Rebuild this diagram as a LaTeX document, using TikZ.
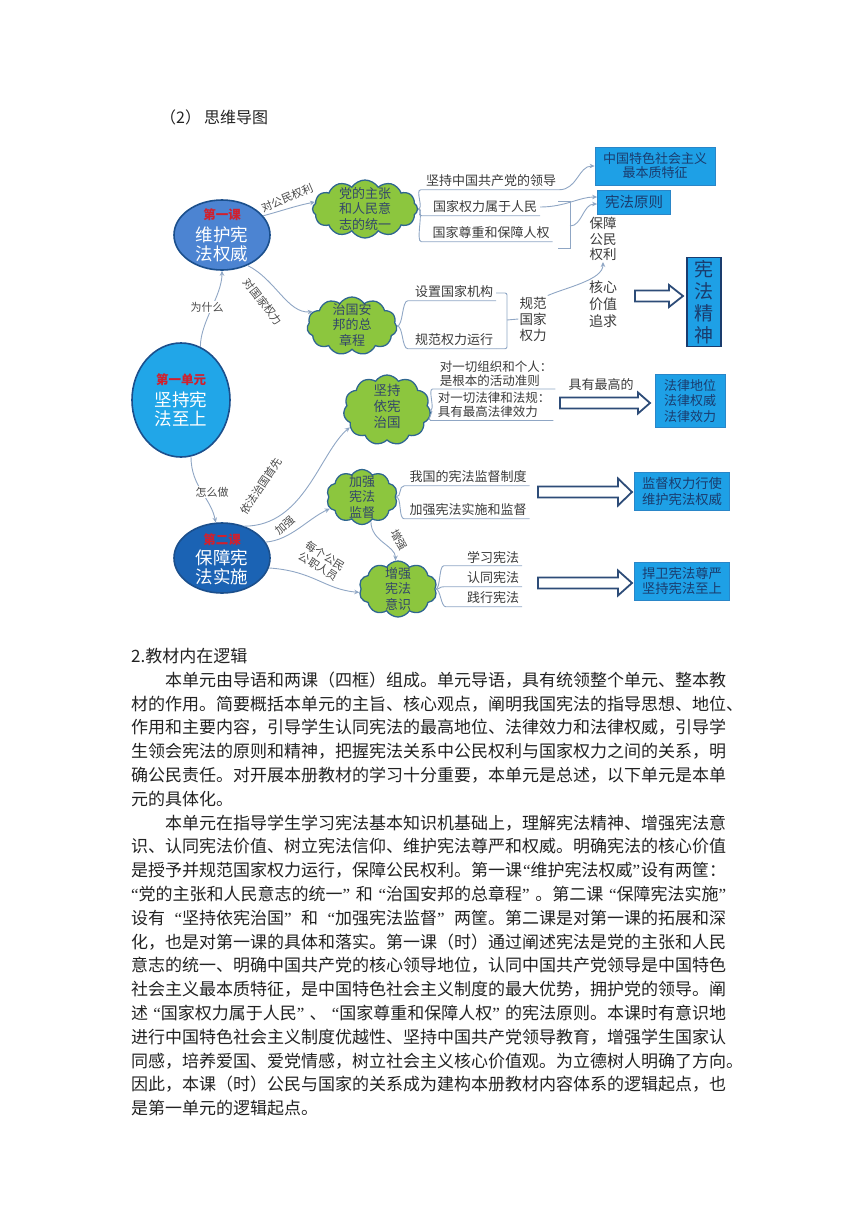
\documentclass[tikz,border=0pt]{standalone}
\usepackage{fontspec}
\setmainfont{Noto Sans CJK SC}
\newfontfamily\qf{Liberation Serif}
\usetikzlibrary{shapes.geometric,shapes.symbols,arrows.meta,calc}
\definecolor{connc}{HTML}{8FA6C4}
\definecolor{cloudg}{HTML}{8CC63E}
\definecolor{cloudb}{HTML}{2F6690}
\definecolor{cloudtx}{HTML}{33476A}
\definecolor{boxb}{HTML}{1EA0E6}
\definecolor{boxe}{HTML}{2A86C8}
\definecolor{navy}{HTML}{1A3C6E}
\definecolor{unitf}{HTML}{21A6E8}
\definecolor{unitb}{HTML}{1B4F8C}
\definecolor{lonef}{HTML}{4C84D2}
\definecolor{ltwof}{HTML}{1B63B4}
\definecolor{redc}{HTML}{D0202E}
\definecolor{lblc}{HTML}{4A4A4A}
\definecolor{brc}{HTML}{3A3A3A}
\definecolor{holc}{HTML}{2D4C78}
\definecolor{bodyc}{HTML}{222222}
\newcommand\oq{{\qf “}}
\newcommand\cq{{\qf ”}}
\newcommand\jl[1]{\hbox to 595pt{#1}}
\newcommand\fatarrow[6]{\draw[hollow] (#1,#3-#4) -- (#2-#6,#3-#4) -- (#2-#6,#3-#5) -- (#2,#3) -- (#2-#6,#3+#5) -- (#2-#6,#3+#4) -- (#1,#3+#4) -- cycle;}
\tikzset{
  conn/.style={draw=connc, line width=0.9pt},
  arr/.style={conn, -{Stealth[length=5pt,width=4.5pt]}},
  lbl/.style={font=\fontsize{11}{12}\selectfont, text=lblc, inner sep=1pt},
  cloudn/.style={cloud, cloud puffs=11, cloud puff arc=115, cloud ignores aspect, fill=cloudg, draw=cloudb, line width=1.3pt, inner sep=0pt},
  cloudt/.style={font=\fontsize{13}{15.5}\selectfont, text=cloudtx, align=center, inner sep=0pt},
  br/.style={font=\fontsize{13}{15}\selectfont, text=brc, inner xsep=3pt, inner ysep=2.5pt},
  bluebox/.style={rectangle, fill=boxb, draw=boxe, line width=0.8pt, text=navy, align=center, inner sep=0pt},
  ell/.style={ellipse, line width=1.6pt, inner sep=0pt},
  hdr/.style={font=\fontsize{12.5}{13}\selectfont\bfseries, text=redc, inner sep=0pt},
  elltxt/.style={font=\fontsize{17.5}{19}\selectfont, text=white, align=center, inner sep=0pt},
  plain/.style={font=\fontsize{13.5}{16}\selectfont, text=brc, align=center, inner sep=1pt},
  hollow/.style={draw=holc, fill=white, line width=1.8pt, line join=miter},
  body/.style={anchor=base west, inner sep=0pt, text=bodyc, font=\fontsize{17}{23.8}\selectfont},
}
\begin{document}
\begin{tikzpicture}[x=1pt,y=-1pt]
\useasboundingbox (0,0) rectangle (860,1216);

% title
\node[anchor=west, inner sep=0pt, text=bodyc, font=\fontsize{16}{18}\selectfont] (title) at (160,117) {（2）\hspace{3pt}思维导图};

% ellipses
\node[ell, fill=unitf, draw=unitb, minimum width=98pt, minimum height=114pt] (unit) at (181,400) {};
\node[hdr] (unith) at ($(unit)+(0,-20)$) {第一单元};
\node[elltxt] (unitt) at ($(unit)+(0,9)$) {坚持宪\\法至上};

\node[ell, fill=lonef, draw=unitb, minimum width=96pt, minimum height=70pt] (l1) at (222,235) {};
\node[hdr] (l1h) at ($(l1)+(0,-20)$) {第一课};
\node[elltxt] (l1t) at ($(l1)+(0,9)$) {维护宪\\法权威};

\node[ell, fill=ltwof, draw=unitb, minimum width=96pt, minimum height=70pt] (l2) at (222,558) {};
\node[hdr] (l2h) at ($(l2)+(0,-18)$) {第二课};
\node[elltxt] (l2t) at ($(l2)+(0,9.5)$) {保障宪\\法实施};

% clouds
\node[cloudn, cloud puffs=12, minimum width=105pt, minimum height=58pt] (c1) at (365,209) {};
\node[cloudt] (c1t) at (c1) {党的主张\\和人民意\\志的统一};
\node[cloudn, minimum width=90pt, minimum height=58pt] (c2) at (352,326) {};
\node[cloudt] (c2t) at ($(c2)+(0,-1)$) {治国安\\邦的总\\章程};
\node[cloudn, minimum width=87pt, minimum height=70pt] (c3) at (387,410) {};
\node[cloudt, font=\fontsize{13.5}{16}\selectfont] (c3t) at ($(c3)+(0,-4)$) {坚持\\依宪\\治国};
\node[cloudn, cloud puffs=10, minimum width=71pt, minimum height=55pt] (c4) at (362,497) {};
\node[cloudt] (c4t) at (c4) {加强\\宪法\\监督};
\node[cloudn, cloud puffs=10, minimum width=78pt, minimum height=56pt] (c5) at (398,589) {};
\node[cloudt] (c5t) at (c5) {增强\\宪法\\意识};

% blue boxes
\node[bluebox, minimum width=120pt, minimum height=38pt, font=\fontsize{13}{14}\selectfont] (b1) at (655,166) {中国特色社会主义\\最本质特征};
\node[bluebox, minimum width=73pt, minimum height=24pt, font=\fontsize{14.5}{16}\selectfont] (b2) at (634,202) {宪法原则};
\node[bluebox, draw=navy, line width=1.4pt, minimum width=34pt, minimum height=89pt, font=\fontsize{19}{22}\selectfont] (b3) at (704,302) {宪\\法\\精\\神};
\node[bluebox, minimum width=70pt, minimum height=53pt, font=\fontsize{13}{15.5}\selectfont] (b4) at (690,401) {法律地位\\法律权威\\法律效力};
\node[bluebox, minimum width=95pt, minimum height=38pt, font=\fontsize{13.3}{16}\selectfont] (b5) at (682,491) {监督权力行使\\维护宪法权威};
\node[bluebox, minimum width=95pt, minimum height=38pt, font=\fontsize{13.3}{15.5}\selectfont] (b6) at (682,581) {捍卫宪法尊严\\坚持宪法至上};

% plain texts
\node[plain, font=\fontsize{13.5}{15.5}\selectfont] (bz) at (603,239) {保障\\公民\\权利};
\node[plain, font=\fontsize{14}{17}\selectfont] (hx) at (603,304) {核心\\价值\\追求};
\node[plain] (gf) at (533,319) {规范\\国家\\权力};
\node[br] (jy) at (601,385) {具有最高的};

% branch texts
\node[br] (a1) at (491,181) {坚持中国共产党的领导};
\node[br] (a2) at (485,207) {国家权力属于人民};
\node[br] (a3) at (491,233) {国家尊重和保障人权};
\node[br] (s1) at (454,292) {设置国家机构};
\node[br] (s2) at (454,340) {规范权力运行};
\node[br, align=left, font=\fontsize{12.5}{14}\selectfont] (d1) at (496,373.5) {对一切组织和个人：\\是根本的活动准则};
\node[br, align=left, font=\fontsize{12.5}{14}\selectfont] (d2) at (494,405) {对一切法律和法规：\\具有最高法律效力};
\node[br] (e1) at (468,477) {我国的宪法监督制度};
\node[br] (e2) at (468,510) {加强宪法实施和监督};
\node[br] (f1) at (493,557) {学习宪法};
\node[br] (f2) at (493,578) {认同宪法};
\node[br] (f3) at (493,598) {践行宪法};

% main connectors
\draw[arr] (unit.70) .. controls +(0,-25) and +(0,25) .. (l1.south);
\node[lbl, fill=white] (why) at (207,307) {为什么};
\draw[arr] (unit.-80) .. controls +(0,30) and +(-5,-25) .. (l2.100);
\node[lbl, fill=white] (how) at (212,492) {怎么做};

\draw[arr] (l1.25) .. controls +(22,-6) and +(-20,4) .. (c1.172);
\node[lbl, rotate=23] (lb1) at (287,198) {对公民权利};
\draw[arr] (l1.-50) .. controls +(28,14) and +(-25,2) .. (c2.160);
\node[lbl, rotate=-52] (lb2) at (263,302) {对国家权力};

\draw[arr] (l2.55) .. controls +(60,0) and +(-30,25) .. (c3.205);
\node[lbl, rotate=56] (lb3) at (261,486) {依法治国首先};
\draw[arr] (l2.20) .. controls +(25,-2) and +(-22,10) .. (c4.200);
\node[lbl, rotate=40] (lb4) at (285,525) {加强};
\draw[arr] (l2.-12) .. controls +(45,3) and +(-35,-3) .. (c5.185);
\node[lbl, rotate=-32, align=center, font=\fontsize{11}{12.5}\selectfont] (lb5) at (322,561) {每个公民\\公职人员};
\draw[arr] (c4.-70) .. controls +(0,20) and +(0,-15) .. (c5.95);
\node[lbl, rotate=-62] (lb6) at (399,540) {增强};

% cloud branches
\foreach \t/\o in {a1/-2, a2/-8, a3/-8}{
  \draw[conn] (c1.east) .. controls +(6,0) and +(-6,0) .. ($(\t.south west)+(\o,0)$) -- (\t.south east);
}
\foreach \t in {s1, s2}{
  \draw[conn] (c2.east) .. controls +(6,0) and +(-6,0) .. ($(\t.south west)+(-4,0)$) -- (\t.south east);
}
\foreach \t in {d1, d2}{
  \draw[conn] (c3.east) .. controls +(5,0) and +(-5,0) .. ($(\t.south west)+(-4,0)$) -- (\t.south east);
}
\foreach \t in {e1, e2}{
  \draw[conn] (c4.east) .. controls +(6,0) and +(-6,0) .. ($(\t.south west)+(-2,0)$) -- (\t.south east);
}
\foreach \t/\o in {f1/-20, f2/-20, f3/-18}{
  \draw[conn] (c5.east) .. controls +(5,0) and +(-5,0) .. ($(\t.south west)+(\o,0)$) -- (\t.south east);
}

% right side connectors
\draw[arr] (a1.south east) .. controls +(18,0) and +(-16,0) .. (b1.west);
\draw[arr] (a2.east) .. controls +(25,0) and +(-18,0) .. ($(b2.west)+(0,-5)$);
\coordinate (brt) at (570,201);
\coordinate (brb) at (570,248);
\coordinate (brm) at (570,226);
\coordinate (brtl) at (558,201);
\coordinate (brbl) at (558,248);
\draw[conn] (brtl) -- (brt) -- (brb) -- (brbl);
\draw[arr] (brm) .. controls +(12,0) and +(-14,0) .. ($(b2.west)+(0,2)$);
\draw[arr] (gf.north east) .. controls +(18,-8) and +(0,18) .. (bz.south);

\coordinate (gbr) at (507,320);
\draw[conn, rounded corners=2pt] ($(s1.east)+(0,1)$) -| (gbr) |- (s2.south east);
\draw[conn] (gbr) -- (gf.west);

% hollow arrows
\fatarrow{635}{683}{296}{5.5}{11}{14}
\fatarrow{560}{650}{403}{5.5}{10.5}{12}
\fatarrow{538}{632}{492}{5.5}{13.5}{14}
\fatarrow{538}{632}{583}{5.5}{12.5}{14}

% body text
\node[body] (t1) at (131,662.5) {2.教材内在逻辑};
\node[body] (t2) at (131,686.3) {\jl{\hspace*{34pt}本单元由导语和两课（四框）组成。单元导语，具有统领整个单元、整本教}};
\node[body] (t3) at (131,710.1) {\jl{材的作用。简要概括本单元的主旨、核心观点，阐明我国宪法的指导思想、地位、}};
\node[body] (t4) at (131,733.9) {\jl{作用和主要内容，引导学生认同宪法的最高地位、法律效力和法律权威，引导学}};
\node[body] (t5) at (131,757.7) {\jl{生领会宪法的原则和精神，把握宪法关系中公民权利与国家权力之间的关系，明}};
\node[body] (t6) at (131,781.5) {\jl{确公民责任。对开展本册教材的学习十分重要，本单元是总述，以下单元是本单}};
\node[body] (t7) at (131,805.2) {元的具体化。};
\node[body] (t8) at (131,829.0) {\jl{\hspace*{34pt}本单元在指导学生学习宪法基本知识机基础上，理解宪法精神、增强宪法意}};
\node[body] (t9) at (131,852.8) {\jl{识、认同宪法价值、树立宪法信仰、维护宪法尊严和权威。明确宪法的核心价值}};
\node[body] (t10) at (131,876.6) {\jl{是授予并规范国家权力运行，保障公民权利。第一课\hfill\oq 维护宪法权威\cq\hfill 设有两筐：}};
\node[body] (t11) at (131,900.4) {\jl{\oq 党的主张和人民意志的统一\cq\hfill 和\hfill\oq 治国安邦的总章程\cq\hfill 。第二课\hfill\oq 保障宪法实施\cq}};
\node[body] (t12) at (131,924.2) {\jl{设有\hfill\oq 坚持依宪治国\cq\hfill 和\hfill\oq 加强宪法监督\cq\hfill 两筐。第二课是对第一课的拓展和深}};
\node[body] (t13) at (131,948.0) {\jl{化，也是对第一课的具体和落实。第一课（时）通过阐述宪法是党的主张和人民}};
\node[body] (t14) at (131,971.8) {\jl{意志的统一、明确中国共产党的核心领导地位，认同中国共产党领导是中国特色}};
\node[body] (t15) at (131,995.6) {\jl{社会主义最本质特征，是中国特色社会主义制度的最大优势，拥护党的领导。阐}};
\node[body] (t16) at (131,1019.4) {\jl{述\hfill\oq 国家权力属于人民\cq\hfill 、\hfill\oq 国家尊重和保障人权\cq\hfill 的宪法原则。本课时有意识地}};
\node[body] (t17) at (131,1043.2) {\jl{进行中国特色社会主义制度优越性、坚持中国共产党领导教育，增强学生国家认}};
\node[body] (t18) at (131,1067.0) {\jl{同感，培养爱国、爱党情感，树立社会主义核心价值观。为立德树人明确了方向。}};
\node[body] (t19) at (131,1090.8) {\jl{因此，本课（时）公民与国家的关系成为建构本册教材内容体系的逻辑起点，也}};
\node[body] (t20) at (131,1114.5) {是第一单元的逻辑起点。};
\end{tikzpicture}
\end{document}
